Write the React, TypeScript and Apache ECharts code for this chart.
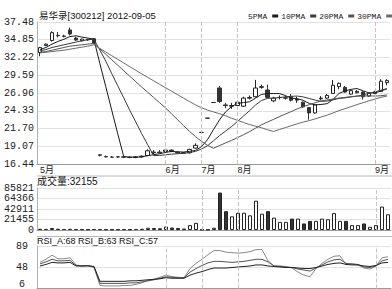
import React, { useEffect, useRef } from "react";
import * as echarts from "echarts";

const titleText = "易华录[300212] 2012-09-05";

const opens = [32.95, 34.0, 34.73, 35.5, 35.4, 36.3, 35.1, 34.7, 34.85, 35.0,
  17.8, 17.55, 17.45, 17.5, 17.5, 17.45, 17.4, 17.5, 17.7, 18.1,
  18.2, 18.3, 18.5, 18.2, 18.1, 18.1, 18.8, 21.12, 23.23, 25.55,
  27.7, 25.2, 25.0, 25.1, 25.0, 26.2, 26.4, 27.8, 27.4, 25.8,
  26.3, 26.2, 26.4, 25.9, 25.6, 24.8, 24.0, 26.1, 26.2, 26.9,
  27.9, 27.8, 26.8, 27.0, 27.1, 26.5, 26.9, 27.2, 28.5];
const closes = [33.69, 34.2, 35.9, 35.45, 35.35, 35.7, 34.8, 34.95, 34.9, 34.35,
  17.75, 17.5, 17.45, 17.5, 17.45, 17.4, 17.5, 17.6, 18.4, 18.2,
  18.1, 18.5, 18.3, 18.1, 18.05, 18.6, 19.2, 21.12, 23.23, 25.55,
  25.7, 25.1, 25.1, 25.6, 26.2, 26.3, 27.7, 27.9, 26.3, 26.2,
  26.3, 26.25, 25.9, 26.0, 24.9, 24.0, 25.2, 26.2, 26.6, 28.1,
  28.4, 27.1, 27.3, 27.2, 26.4, 26.9, 27.1, 28.7, 28.8];
const lows = [32.4, 33.9, 34.6, 35.2, 35.2, 35.5, 34.7, 34.6, 34.7, 34.2,
  17.55, 17.4, 17.44, 17.35, 17.35, 17.3, 17.3, 17.4, 17.6, 17.9,
  18.0, 18.1, 18.2, 18.0, 17.95, 18.0, 18.7, 21.12, 23.23, 25.55,
  25.5, 24.7, 24.6, 25.0, 24.9, 26.0, 26.3, 27.6, 26.2, 25.6,
  26.0, 26.0, 25.7, 25.5, 24.8, 23.0, 23.9, 25.9, 26.1, 26.8,
  27.5, 27.0, 26.7, 26.9, 26.0, 26.4, 26.8, 27.1, 28.1];
const highs = [33.8, 34.3, 36.1, 36.0, 35.6, 36.65, 35.3, 35.0, 35.0, 35.1,
  17.85, 17.7, 17.6, 17.55, 17.6, 17.55, 17.6, 17.7, 18.6, 18.5,
  18.5, 18.8, 18.6, 18.3, 18.2, 18.7, 19.5, 21.12, 23.23, 25.55,
  28.0, 25.5, 25.5, 25.8, 26.4, 26.6, 28.9, 28.2, 28.2, 26.4,
  26.6, 26.5, 26.8, 26.4, 25.7, 24.9, 25.3, 26.5, 26.8, 28.9,
  28.5, 28.0, 27.5, 27.4, 27.2, 27.0, 27.3, 29.0, 29.0];

const ma5 = [33.4, 33.7, 34.2, 34.6, 34.92, 35.32, 35.44, 35.25, 35.1, 34.94,
  31.35, 27.89, 24.39, 20.91, 17.53, 17.46, 17.46, 17.49, 17.67, 17.82,
  17.96, 18.16, 18.3, 18.24, 18.21, 18.31, 18.45, 19.01, 20.04, 21.54,
  22.96, 24.14, 24.94, 25.41, 25.54, 25.66, 26.18, 26.74, 26.88, 26.88,
  26.88, 26.59, 26.19, 26.13, 25.87, 25.41, 25.2, 25.26, 25.38, 26.02,
  26.9, 27.28, 27.5, 27.62, 27.28, 26.98, 26.98, 27.26, 27.58];
const ma10 = [33.2, 33.4, 33.7, 33.9, 34.1, 34.3, 34.5, 34.7, 34.85, 34.93,
  33.34, 31.67, 29.82, 28.03, 26.24, 24.41, 22.68, 20.94, 19.29, 17.68,
  17.71, 17.81, 17.9, 17.96, 18.02, 18.14, 18.31, 18.66, 19.14, 19.88,
  20.64, 21.3, 21.98, 22.73, 23.54, 24.31, 25.16, 25.84, 26.15, 26.21,
  26.27, 26.39, 26.47, 26.51, 26.38, 26.15, 25.9, 25.73, 25.76, 25.95,
  26.16, 26.24, 26.38, 26.5, 26.65, 26.94, 27.13, 27.38, 27.6];
const ma20 = [33.0, 33.1, 33.3, 33.5, 33.7, 33.9, 34.0, 34.1, 34.2, 34.3,
  33.5, 32.69, 31.88, 31.07, 30.26, 29.45, 28.64, 27.84, 27.07, 26.3,
  25.52, 24.74, 23.86, 22.99, 22.12, 21.27, 20.49, 19.8, 19.21, 18.77,
  19.17, 19.55, 19.93, 20.34, 20.77, 21.22, 21.73, 22.24, 22.64, 23.04,
  23.45, 23.83, 24.21, 24.61, 24.95, 25.22, 25.52, 25.78, 25.94, 26.07,
  26.21, 26.31, 26.42, 26.5, 26.51, 26.54, 26.51, 26.55, 26.67];
const ma30 = [32.9, 33.0, 33.1, 33.2, 33.3, 33.45, 33.6, 33.75, 33.9, 34.1,
  33.57, 33.03, 32.49, 31.95, 31.41, 30.87, 30.33, 29.79, 29.28, 28.77,
  28.25, 27.74, 27.23, 26.71, 26.19, 25.69, 25.2, 24.78, 24.43, 24.16,
  23.9, 23.59, 23.23, 22.91, 22.6, 22.29, 22.05, 21.82, 21.53, 21.26,
  21.54, 21.83, 22.11, 22.4, 22.65, 22.87, 23.12, 23.41, 23.68, 24.01,
  24.36, 24.64, 24.94, 25.25, 25.52, 25.8, 26.06, 26.32, 26.5];

const volumes = [2500, 2200, 4200, 2600, 2000, 2400, 1800, 1600, 1500, 2000,
  1800, 1500, 1400, 1500, 1600, 1500, 2000, 2500, 4500, 4000,
  3500, 7000, 5000, 4000, 3000, 10000, 14600, 800, 900, 4600,
  76500, 38500, 28000, 35300, 35300, 30000, 59900, 33300, 38500, 25300,
  16600, 16600, 23300, 23300, 13400, 18600, 18600, 23300, 22000, 34600,
  18600, 18600, 10000, 10000, 13400, 6600, 10000, 47900, 32155];

const rsiA = [57, 63, 71, 64, 64, 66, 52, 50, 51, 47,
  12, 11, 11, 11, 12, 12, 14, 17, 22, 24,
  28, 32, 29, 28, 27, 45, 55, 63, 72, 80,
  80, 77, 76, 75, 76, 78, 82, 82, 60, 50,
  50, 49, 46, 38, 32, 29, 45, 55, 63, 69,
  70, 53, 54, 52, 46, 44, 50, 66, 68];
const rsiB = [54, 58, 63, 60, 60, 61, 51, 50, 51, 48,
  16, 16, 16, 16, 16, 17, 17, 19, 21, 23,
  26, 29, 28, 27, 27, 38, 45, 51, 56, 59,
  59, 58, 57, 58, 59, 61, 63, 63, 58, 50,
  49, 48, 47, 44, 42, 40, 46, 52, 58, 62,
  63, 55, 54, 53, 48, 47, 50, 60, 63];
const rsiC = [50, 53, 57, 56, 56, 57, 50, 50, 50, 49,
  20, 20, 20, 20, 20, 21, 21, 22, 23, 24,
  25, 27, 26, 26, 26, 32, 36, 39, 43, 46,
  46, 46, 47, 48, 49, 50, 52, 52, 50, 49,
  48, 47, 47, 46, 45, 45, 47, 50, 53, 55,
  56, 53, 52, 52, 50, 49, 51, 56, 57];

const monthIndex = [0, 21, 27, 33, 56];
const monthNames = ["5月", "6月", "7月", "8月", "9月"];
const maNames = ["5PMA", "10PMA", "20PMA", "30PMA"];
const maColors = ["#1a1a1a", "#3a3a3a", "#555555", "#6a6a6a"];

const priceMin = 16.44, priceMax = 37.48, priceStep = 2.63;
const volMax = 85821, volStep = 21455.25;
const rsiMin = 6, rsiMax = 89, rsiStep = 41.5;

const days = opens.map((_, i) => "T" + (i + 1));

export default function App() {
  const ref = useRef<HTMLDivElement>(null);
  useEffect(() => {
    document.body.style.margin = "0";
    if (!ref.current) return;
    const chart = echarts.init(ref.current, null, { renderer: "svg" });
    const mono = "Liberation Mono, DejaVu Sans Mono, monospace";
    const sans = "Liberation Sans, Noto Sans CJK SC, sans-serif";
    const dashLines = monthIndex.filter((i) => i > 0).map((i) => ({ xAxis: days[i] }));
    const markLine = {
      silent: true,
      symbol: ["none", "none"],
      label: { show: false },
      lineStyle: { type: "dashed", color: "#c4c4c4", width: 1 },
      data: dashLines,
    };
    const last = volumes.length - 1;
    const xAxisBase = (g: number) => ({
      type: "category",
      gridIndex: g,
      data: days,
      boundaryGap: true,
      axisTick: { show: false },
      axisLine: { show: true, lineStyle: { color: "#9a9a9a" } },
      splitLine: { show: false },
      axisLabel:
        g === 0
          ? {
              show: true,
              interval: (i: number) => monthIndex.includes(i),
              formatter: (_v: string, i: number) => monthNames[monthIndex.indexOf(i)] ?? "",
              align: "left",
              margin: 1,
              fontSize: 9,
              fontFamily: sans,
              color: "#222",
            }
          : { show: false },
    });
    const gridLineStyle = { color: "#e2e2e2", width: 1 };
    const option = {
      animation: false,
      backgroundColor: "#ffffff",
      legend: {
        data: maNames,
        left: 248,
        top: 12,
        width: 200,
        align: "right",
        icon: "rect",
        itemWidth: 6,
        itemHeight: 3,
        itemGap: 3,
        padding: 0,
        textStyle: { fontFamily: mono, fontSize: 8, color: "#222" },
      },
      grid: [
        { left: 37, right: 1, top: 22, height: 142 },
        { left: 37, right: 1, top: 188, height: 42 },
        { left: 37, right: 1, top: 246, bottom: -2 },
      ],
      xAxis: [xAxisBase(0), xAxisBase(1), xAxisBase(2)],
      yAxis: [
        {
          type: "value", gridIndex: 0, min: priceMin, max: priceMax, interval: priceStep,
          axisLine: { show: true, lineStyle: { color: "#b0b0b0" } },
          axisTick: { show: false },
          splitLine: { show: true, lineStyle: gridLineStyle },
          axisLabel: { formatter: (v: number) => v.toFixed(2), fontFamily: mono, fontSize: 10, color: "#222", margin: 3 },
        },
        {
          type: "value", gridIndex: 1, min: 0, max: volMax, interval: volStep,
          axisLine: { show: true, lineStyle: { color: "#b0b0b0" } },
          axisTick: { show: false },
          splitLine: { show: true, lineStyle: gridLineStyle },
          axisLabel: { formatter: (v: number) => String(Math.round(v)), fontFamily: mono, fontSize: 10, color: "#222", margin: 3 },
        },
        {
          type: "value", gridIndex: 2, min: rsiMin, max: rsiMax, interval: rsiStep,
          axisLine: { show: true, lineStyle: { color: "#b0b0b0" } },
          axisTick: { show: false },
          splitLine: { show: true, lineStyle: gridLineStyle },
          axisLabel: {
            formatter: (v: number) => (v === rsiMin ? "{low|" + v + "}" : String(Math.round(v))),
            rich: { low: { padding: [0, 0, 9, 0], fontFamily: mono, fontSize: 10, color: "#222" } },
            fontFamily: mono, fontSize: 10, color: "#222", margin: 15, align: "center",
          },
        },
      ],
      series: [
        {
          type: "candlestick",
          name: "K",
          xAxisIndex: 0, yAxisIndex: 0,
          barWidth: 4,
          data: opens.map((o, i) => [o, closes[i], lows[i], highs[i]]),
          itemStyle: { color: "#ffffff", color0: "#333333", borderColor: "#222222", borderColor0: "#333333", borderWidth: 1 },
          markLine,
        },
        ...[ma5, ma10, ma20, ma30].map((d, k) => ({
          type: "line",
          name: maNames[k],
          xAxisIndex: 0, yAxisIndex: 0,
          data: d,
          symbol: "none",
          color: maColors[k],
          lineStyle: { width: 1, color: maColors[k] },
        })),
        {
          type: "bar",
          name: "VOL",
          xAxisIndex: 1, yAxisIndex: 1,
          barWidth: 4,
          data: volumes.map((v, i) => ({
            value: v,
            itemStyle: {
              color: closes[i] >= opens[i] ? "#ffffff" : "#333333",
              borderColor: "#222222",
              borderWidth: 1,
            },
          })),
          markLine,
        },
        ...[rsiA, rsiB, rsiC].map((d, k) => ({
          type: "line",
          name: ["RSI_A", "RSI_B", "RSI_C"][k],
          xAxisIndex: 2, yAxisIndex: 2,
          data: d,
          symbol: "none",
          lineStyle: { width: 1, color: ["#8a8a8a", "#555555", "#222222"][k] },
          markLine: k === 0 ? markLine : undefined,
        })),
      ],
      graphic: [
        {
          type: "text", left: 39, top: 11,
          style: { text: titleText, fontSize: 9.5, fontFamily: sans, fill: "#111" },
        },
        { type: "line", shape: { x1: 37, y1: 176, x2: 392, y2: 176 }, style: { stroke: "#b8b8b8", lineWidth: 1 } },
        {
          type: "text", left: 37, top: 176.5,
          style: { text: "成交量:" + volumes[last], fontSize: 10, fontFamily: sans, fill: "#111" },
        },
        { type: "line", shape: { x1: 37, y1: 236.5, x2: 392, y2: 236.5 }, style: { stroke: "#b8b8b8", lineWidth: 1 } },
        {
          type: "text", left: 37, top: 236,
          style: {
            text: "RSI_A:" + rsiA[last] + " RSI_B:" + rsiB[last] + " RSI_C:" + rsiC[last],
            fontSize: 9, fontFamily: sans, fill: "#111",
          },
        },
      ],
    };
    chart.setOption(option as any);
    return () => chart.dispose();
  }, []);
  return <div ref={ref} style={{ width: 392, height: 289 }} />;
}
